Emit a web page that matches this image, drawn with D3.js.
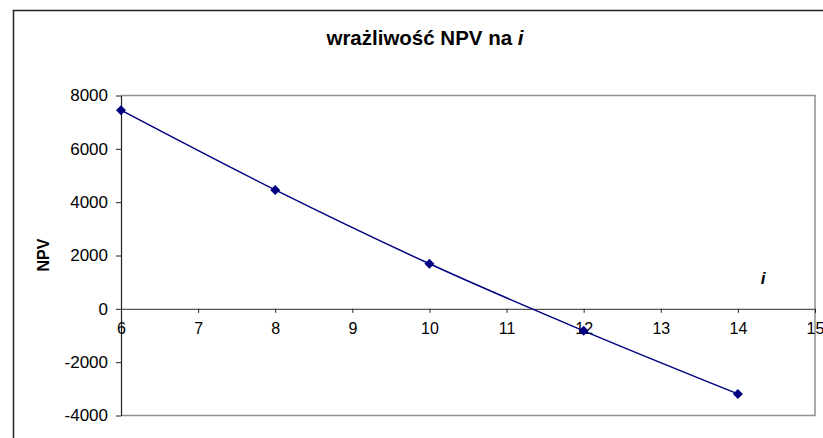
<!DOCTYPE html>
<html>
<head>
<meta charset="utf-8">
<script src="https://cdn.jsdelivr.net/npm/d3@7"></script>
<style>
  body { margin: 0; background: #fff; }
  svg { display: block; font-family: "Liberation Sans", Arial, sans-serif; }
</style>
</head>
<body>
<div class="chart"></div>
<script>
let width = 823, height = 438;

// data
let rates = [6, 8, 10, 12, 14];
let npv = [7450, 4460, 1690, -825, -3190];
let xTicks = [6, 7, 8, 9, 10, 11, 12, 13, 14, 15];
let yTicks = [-4000, -2000, 0, 2000, 4000, 6000, 8000];

let plot = { left: 121, right: 815, top: 95.5, bottom: 415.5 };

let svg = d3.select(".chart").append("svg")
    .attr("width", width)
    .attr("height", height);

// outer chart frame (runs off the right and bottom)
svg.append("rect")
    .attr("x", 13.5).attr("y", 10.5)
    .attr("width", 830).attr("height", 450)
    .attr("fill", "none")
    .attr("stroke", "#222")
    .attr("stroke-width", 1.5);

let x = d3.scaleLinear().domain([6, 15]).range([plot.left, plot.right]);
let y = d3.scaleLinear().domain([-4000, 8000]).range([plot.bottom, plot.top]);

// plot area border (top, right, bottom)
svg.append("path")
    .attr("d", `M${plot.left},${plot.top}H${plot.right}V${plot.bottom}H${plot.left}`)
    .attr("fill", "none")
    .attr("stroke", "#909090")
    .attr("stroke-width", 1.5);

let fmt = d => String(d).replace("\u2212", "-");

// y axis
let yAxis = svg.append("g")
    .attr("transform", `translate(${plot.left},0)`)
    .call(d3.axisLeft(y).tickValues(yTicks).tickFormat(fmt).tickSize(5).tickPadding(8).tickSizeOuter(0));
yAxis.select(".domain").attr("stroke", "#222").attr("stroke-width", 1.2);
yAxis.selectAll(".tick line").attr("stroke", "#222");
yAxis.selectAll("text").attr("font-size", 17).attr("fill", "#000")
    .attr("font-family", "Liberation Sans, Arial, sans-serif");

// x axis at zero
let xAxis = svg.append("g")
    .attr("transform", `translate(0,${y(0)})`)
    .call(d3.axisBottom(x).tickValues(xTicks).tickFormat(fmt).tickSize(4).tickPadding(10).tickSizeOuter(0));
xAxis.select(".domain").attr("stroke", "#555").attr("stroke-width", 1.2);
xAxis.selectAll(".tick line").attr("stroke", "#222");
xAxis.selectAll("text").attr("font-size", 16).attr("fill", "#000")
    .attr("font-family", "Liberation Sans, Arial, sans-serif");

// series line
let pts = rates.map((r, i) => [r, npv[i]]);
let line = d3.line()
    .x(d => x(d[0]))
    .y(d => y(d[1]))
    .curve(d3.curveCatmullRom.alpha(0.5));

svg.append("path")
    .datum(pts)
    .attr("d", line)
    .attr("fill", "none")
    .attr("stroke", "#000080")
    .attr("stroke-width", 1.5);

svg.selectAll(".pt")
    .data(pts)
    .enter().append("path")
    .attr("class", "pt")
    .attr("transform", d => `translate(${x(d[0])},${y(d[1])})`)
    .attr("d", "M0,-5L5,0L0,5L-5,0Z")
    .attr("fill", "#000080");

// title
let title = svg.append("text")
    .attr("x", 425).attr("y", 45)
    .attr("text-anchor", "middle")
    .attr("font-size", 20.5)
    .attr("font-weight", "bold");
title.append("tspan").text("wrażliwość NPV na ");
title.append("tspan").attr("font-style", "italic").text("i");

// axis titles
svg.append("text")
    .attr("transform", "translate(49,255) rotate(-90)")
    .attr("text-anchor", "middle")
    .attr("font-size", 16)
    .attr("font-weight", "bold")
    .text("NPV");

svg.append("text")
    .attr("x", 763).attr("y", 284)
    .attr("text-anchor", "middle")
    .attr("font-size", 17)
    .attr("font-weight", "bold")
    .attr("font-style", "italic")
    .text("i");
</script>
</body>
</html>
